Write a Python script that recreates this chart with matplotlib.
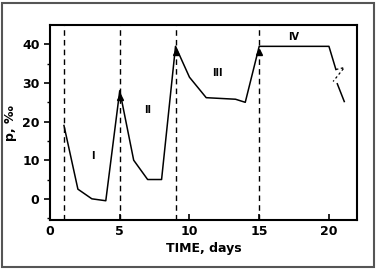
import matplotlib
matplotlib.use("Agg")
import matplotlib.pyplot as plt
from matplotlib.patches import Rectangle

# phase boundaries (days)
phase_days = [1, 5, 9, 15]

# concentration curve, solid part
time_main = [1, 2, 3, 4, 5, 6, 7, 8, 9, 10, 11.2, 13.3, 14, 15, 20, 20.5]
p_main = [19, 2.5, 0, -0.5, 28, 10, 5, 5, 39.5, 31.5, 26.2, 25.8, 25, 39.5, 39.5, 33.5]

# zigzag break at the end
time_zig = [20.5, 21.1, 20.3]
p_zig = [33.5, 34, 30.4]
time_tail = [20.6, 21.1]
p_tail = [29.8, 25.2]

# arrow heads at the peaks
peak_t = [5, 9, 15]
peak_p = [28, 39.5, 39.5]

labels = ["I", "II", "III", "IV"]
label_t = [3.1, 7.0, 12.0, 17.5]
label_p = [11, 23, 32.5, 42]

fig = plt.figure(figsize=(3.76, 2.70), dpi=100)
ax = fig.add_axes([0.133, 0.185, 0.816, 0.722])

fig.patches.append(Rectangle((0.005, 0.01), 0.99, 0.98, transform=fig.transFigure,
                             fill=False, edgecolor="#555555", linewidth=1.5))

for d in phase_days:
    ax.axvline(d, color="k", linestyle=(0, (4, 3)), linewidth=1.0)

ax.plot(time_main, p_main, color="k", linewidth=1.1)
ax.plot(time_zig, p_zig, color="k", linewidth=0.9, linestyle=(0, (2, 2)))
ax.plot(time_tail, p_tail, color="k", linewidth=1.1)
ax.plot(peak_t, [p - 1.5 for p in peak_p], "^", color="k", markersize=5)

for lab, t, p in zip(labels, label_t, label_p):
    ax.text(t, p, lab, ha="center", va="center", fontsize=7, fontweight="bold")

ax.set_xlim(0, 22)
ax.set_ylim(-5.5, 45)
ax.set_xticks([0, 5, 10, 15, 20])
ax.set_yticks([0, 10, 20, 30, 40])
ax.set_yticks([-5, 5, 15, 25, 35], minor=True)
ax.tick_params(axis="x", direction="in", length=4, width=1.2, labelsize=9)
ax.tick_params(axis="y", direction="out", length=4, width=1.2, labelsize=9)
ax.tick_params(axis="y", which="minor", direction="out", length=2, width=1.0)
for lab in ax.get_xticklabels() + ax.get_yticklabels():
    lab.set_fontweight("bold")
for s in ax.spines.values():
    s.set_linewidth(1.5)

ax.set_xlabel("TIME, days", fontsize=9, fontweight="bold", labelpad=3)
ax.set_ylabel("p, ‰", fontsize=9, fontweight="bold", labelpad=4)

fig.savefig("out.png", dpi=100)
